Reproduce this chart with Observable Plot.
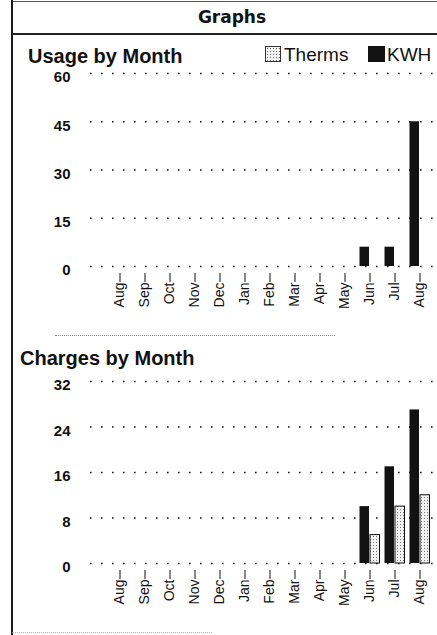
<!DOCTYPE html>
<html><head><meta charset="utf-8">
<script src="https://cdn.jsdelivr.net/npm/d3@7"></script>
<script src="https://cdn.jsdelivr.net/npm/@observablehq/plot@0.6"></script>
<style>
body{margin:0;background:#fff;font-family:"Liberation Sans",Arial,sans-serif;color:#111}
#page{position:relative;width:437px;height:635px;overflow:hidden;background:#fff}
.abs{position:absolute;white-space:nowrap}
#border{left:11px;top:0;width:2px;height:635px;background:#1a1a1a}
#topline{left:12px;top:1px;width:425px;height:1px;background:#555}
#title{left:27px;width:410px;top:9px;text-align:center;font:bold 17px/17px "DejaVu Sans",sans-serif}
#hline{left:12px;top:33px;width:425px;height:1.5px;background:#222}
.h2{font:bold 20px/20px "Liberation Sans",Arial,sans-serif}
#t1{left:28px;top:46px}
#t2{left:20px;top:348px}
.sw{width:16px;height:16px;box-sizing:border-box}
#swT{left:265px;top:46px;background-color:#f2f2f2;background-image:radial-gradient(#666 0.7px, transparent 0.9px);background-size:3px 3px;border:1px solid #333}
#swK{left:368px;top:46px;width:17px;background:#121212}
.lg{font:19px/19px "Liberation Sans",Arial,sans-serif;top:45px}
#lgT{left:284px}
#lgK{left:387px}
#sep{left:55px;top:335px;width:280px;border-top:1px dotted #888}
#bot{left:12px;top:632px;width:200px;border-top:1px dotted #aaa}
#c1{left:0;top:66px}
#c2{left:0;top:370px}
</style></head><body>
<div id="page">
  <div class="abs" id="topline"></div>
  <div class="abs" id="border"></div>
  <div class="abs" id="title">Graphs</div>
  <div class="abs" id="hline"></div>
  <div class="abs h2" id="t1">Usage by Month</div>
  <div class="abs sw" id="swT"></div>
  <div class="abs lg" id="lgT">Therms</div>
  <div class="abs sw" id="swK"></div>
  <div class="abs lg" id="lgK">KWH</div>
  <div class="abs" id="c1"></div>
  <div class="abs" id="sep"></div>
  <div class="abs h2" id="t2">Charges by Month</div>
  <div class="abs" id="c2"></div>
  <div class="abs" id="bot"></div>
</div>
<script>
const months = ["Aug","Sep","Oct","Nov","Dec","Jan","Feb","Mar","Apr","May","Jun","Jul","Aug"];
const usageTherms = [0,0,0,0,0,0,0,0,0,0,0,0,0];
const usageKWH    = [0,0,0,0,0,0,0,0,0,0,6,6,45];
const chargesTherms = [0,0,0,0,0,0,0,0,0,0,5,10,12];
const chargesKWH    = [0,0,0,0,0,0,0,0,0,0,10,17,27];
const usageTicks = [0,15,30,45,60];
const chargesTicks = [0,8,16,24,32];

function chart(kwh, therms, ticks, mt, mb, pid) {
  const rows = months.map((m, i) => ({i, month: m, kwh: kwh[i], therms: therms[i]}));
  const svg = Plot.plot({
    width: 437, height: 240,
    marginLeft: 90, marginRight: 0, marginTop: mt, marginBottom: mb,
    style: {fontFamily: "Liberation Sans, Arial, sans-serif", color: "#111", background: "transparent", overflow: "visible"},
    x: {type: "band", domain: d3.range(months.length), padding: 0, insetLeft: 12},
    y: {domain: [0, ticks[ticks.length - 1]]},
    marks: [
      Plot.ruleY(ticks, {stroke: "#111", strokeWidth: 1.6, strokeDasharray: "1.6 9.4"}),
      Plot.barY(rows.filter(d => d.kwh > 0), {x: "i", y: "kwh", fill: "#121212", insetLeft: 2.5, insetRight: 13}),
      Plot.barY(rows.filter(d => d.therms > 0), {x: "i", y: "therms", fill: `url(#${pid})`, stroke: "#111", strokeWidth: 1, insetLeft: 13, insetRight: 2.5}),
      Plot.axisY({ticks, tickSize: 0, tickPadding: 20, fontSize: 15, fontWeight: "bold", dy: 4, label: null}),
      Plot.axisX({tickFormat: i => months[i], tickSize: 9, tickPadding: 0, tickRotate: -90, dy: 7, fontSize: 14, label: null})
    ]
  });
  const ns = "http://www.w3.org/2000/svg";
  const defs = document.createElementNS(ns, "defs");
  defs.innerHTML = `<pattern id="${pid}" width="3" height="3" patternUnits="userSpaceOnUse"><rect width="3" height="3" fill="#f2f2f2"/><rect x="1" y="1" width="1" height="1" fill="#777"/></pattern>`;
  svg.insertBefore(defs, svg.firstChild);
  return svg;
}
document.getElementById("c1").append(chart(usageKWH, usageTherms, usageTicks, 7, 40, "stip1"));
document.getElementById("c2").append(chart(chargesKWH, chargesTherms, chargesTicks, 11, 47, "stip2"));
</script>
</body></html>
